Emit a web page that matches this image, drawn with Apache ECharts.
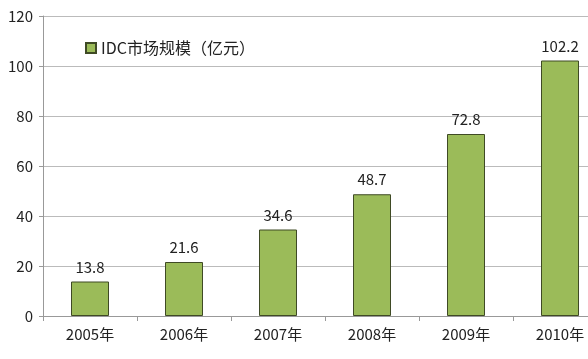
<!DOCTYPE html>
<html><head><meta charset="utf-8">
<script src="https://cdn.jsdelivr.net/npm/echarts@6/dist/echarts.min.js"></script>
<style>html,body{margin:0;padding:0;background:#fff;overflow:hidden;width:588px;height:359px}#c{width:608px;height:359px}</style>
</head><body><div id="c"></div>
<script>
const categories = ['2005年','2006年','2007年','2008年','2009年','2010年'];
const values = [13.8, 21.6, 34.6, 48.7, 72.8, 102.2];
const seriesName = 'IDC市场规模（亿元）';
const yTicks = {min:0, max:120, interval:20};

const chart = echarts.init(document.getElementById('c'));
chart.setOption({
  animation:false,
  textStyle:{fontFamily:'"Noto Sans CJK SC", "DejaVu Sans", sans-serif'},
  grid:{left:43, top:16, right:1, bottom:43, containLabel:false},
  legend:{left:80, top:35, itemWidth:10, itemHeight:10, itemGap:4,
    textStyle:{fontSize:16, color:'#222'},
    data:[{name:seriesName, icon:'rect'}]},
  xAxis:{type:'category', data:categories,
    axisLine:{lineStyle:{color:'#999'}},
    axisTick:{show:true, length:5, lineStyle:{color:'#999'}},
    axisLabel:{fontSize:15, color:'#222', margin:11}},
  yAxis:{type:'value', min:yTicks.min, max:yTicks.max, interval:yTicks.interval,
    axisLine:{show:true, lineStyle:{color:'#999'}},
    axisTick:{show:true, length:4, lineStyle:{color:'#999'}},
    splitLine:{lineStyle:{color:'#bbb'}},
    axisLabel:{fontSize:15, color:'#222', margin:10}},
  series:[{name:seriesName, type:'bar', data:values, barWidth:38,
    itemStyle:{color:'#9BBB59', borderColor:'#3f4a25', borderWidth:1},
    label:{show:true, position:'top', distance:7, fontSize:15, color:'#222'}}]
});
</script></body></html>
